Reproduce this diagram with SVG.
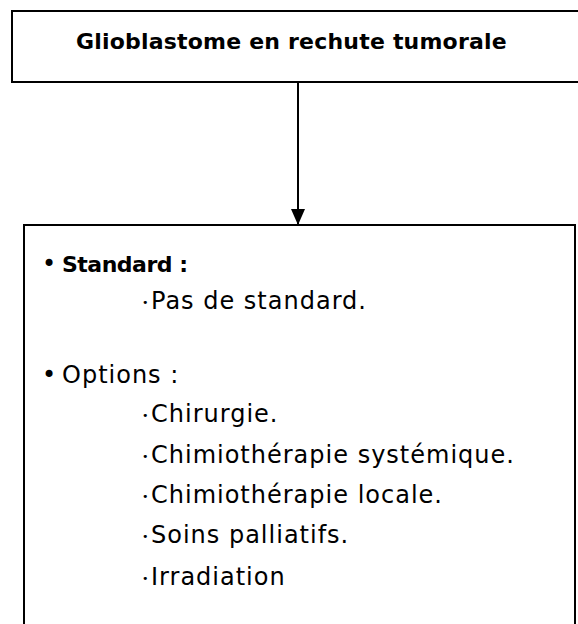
<svg xmlns="http://www.w3.org/2000/svg" width="578" height="624" viewBox="0 0 578 624">
  <defs>
    <marker id="arrowhead" markerWidth="16" markerHeight="14" refX="16" refY="7" orient="auto" markerUnits="userSpaceOnUse">
      <path d="M0,0 L16,7 L0,14 Z" fill="#000"/>
    </marker>
    <style>
      .box { fill: #fff; stroke: #000; stroke-width: 2; }
      .title { font-family: "DejaVu Sans", "Liberation Sans", sans-serif; font-size: 22px; font-weight: bold; letter-spacing: 0.2px; fill: #000; }
      .item { font-family: "DejaVu Sans", "Liberation Sans", sans-serif; font-size: 24px; letter-spacing: 1px; fill: #000; }
      .head { font-family: "DejaVu Sans", "Liberation Sans", sans-serif; font-size: 24px; fill: #000; }
      .dot { font-size: 11px; letter-spacing: 0; }
      .edge { stroke: #000; stroke-width: 2; fill: none; }
    </style>
  </defs>

  <!-- connector -->
  <g id="connectors">
    <line class="edge" x1="298" y1="82" x2="298" y2="225" marker-end="url(#arrowhead)"/>
  </g>

  <!-- top node -->
  <g id="node-relapse">
    <rect class="box" x="12" y="11" width="580" height="71"/>
    <text class="title" x="76" y="49">Glioblastome en rechute tumorale</text>
  </g>

  <!-- management node -->
  <g id="node-management">
    <rect class="box" x="24" y="225" width="551" height="420"/>
    <text class="head" x="42" y="272"><tspan>•</tspan><tspan x="62" font-weight="bold" font-size="22" letter-spacing="-0.5">Standard :</tspan></text>
    <text class="item" x="142" y="309"><tspan class="dot" dy="-3">•</tspan><tspan x="151" dy="3">Pas de standard.</tspan></text>
    <text class="head" x="42" y="383"><tspan>•</tspan><tspan x="62" letter-spacing="1">Options :</tspan></text>
    <text class="item" x="142" y="422"><tspan class="dot" dy="-3">•</tspan><tspan x="151" dy="3">Chirurgie.</tspan></text>
    <text class="item" x="142" y="463"><tspan class="dot" dy="-3">•</tspan><tspan x="151" dy="3">Chimiothérapie systémique.</tspan></text>
    <text class="item" x="142" y="503"><tspan class="dot" dy="-3">•</tspan><tspan x="151" dy="3">Chimiothérapie locale.</tspan></text>
    <text class="item" x="142" y="543"><tspan class="dot" dy="-3">•</tspan><tspan x="151" dy="3">Soins palliatifs.</tspan></text>
    <text class="item" x="142" y="585"><tspan class="dot" dy="-3">•</tspan><tspan x="151" dy="3">Irradiation</tspan></text>
  </g>
</svg>
